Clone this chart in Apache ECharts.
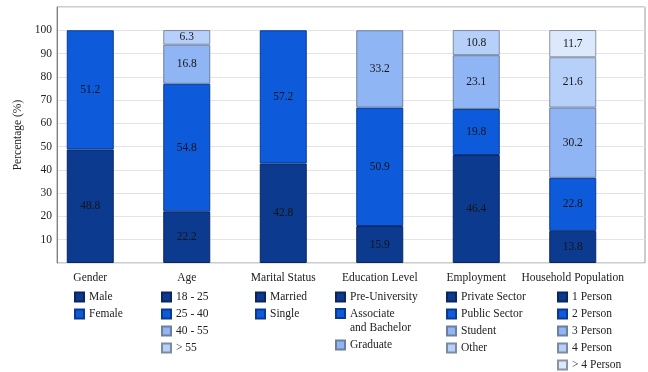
<!DOCTYPE html>
<html>
<head>
<meta charset="utf-8">
<script src="https://cdn.jsdelivr.net/npm/echarts@6/dist/echarts.min.js"></script>
<style>html,body{margin:0;padding:0;background:#fff}#c{width:648px;height:372px}</style>
</head>
<body>
<div id="c"></div>
<script>
const categories = ['Gender', 'Age', 'Marital Status', 'Education Level', 'Employment', 'Household Population'];

const genderLabels = ['Male', 'Female'];
const genderValues = [48.8, 51.2];
const ageLabels = ['18 - 25', '25 - 40', '40 - 55', '> 55'];
const ageValues = [22.2, 54.8, 16.8, 6.3];
const maritalLabels = ['Married', 'Single'];
const maritalValues = [42.8, 57.2];
const educationLabels = ['Pre-University', 'Associate and Bachelor', 'Graduate'];
const educationValues = [15.9, 50.9, 33.2];
const employmentLabels = ['Private Sector', 'Public Sector', 'Student', 'Other'];
const employmentValues = [46.4, 19.8, 23.1, 10.8];
const householdLabels = ['1 Person', '2 Person', '3 Person', '4 Person', '> 4 Person'];
const householdValues = [13.8, 22.8, 30.2, 21.6, 11.7];

const yTicks = [10, 20, 30, 40, 50, 60, 70, 80, 90, 100];

const groups = [
  [genderLabels, genderValues],
  [ageLabels, ageValues],
  [maritalLabels, maritalValues],
  [educationLabels, educationValues],
  [employmentLabels, employmentValues],
  [householdLabels, householdValues]
];

const levelColors = ['#0c3a8e', '#0d5bdb', '#8fb5f5', '#b7d0f9', '#dce8fb'];
const levelBorders = ['#0a2660', '#0a3a90', '#6d7f9c', '#7d8ba0', '#8a93a3'];
const FONT = 'Liberation Serif';
const FS = 11.5;

const series = [];
groups.forEach((g, ci) => {
  const [labels, values] = g;
  labels.forEach((name, j) => {
    const data = categories.map((_, k) => (k === ci ? values[j] : '-'));
    series.push({
      name: name,
      type: 'bar',
      stack: 'total',
      xAxisIndex: 0,
      yAxisIndex: 0,
      barWidth: 47,
      data: data,
      itemStyle: { color: levelColors[j], borderColor: levelBorders[j], borderWidth: 1 },
      label: {
        show: true,
        position: 'inside',
        color: '#151515',
        fontFamily: FONT,
        fontSize: FS,
        formatter: p => p.value.toFixed(1)
      },
      emphasis: { disabled: true }
    });
  });
});

const legendBase = {
  orient: 'vertical',
  padding: 0,
  itemGap: 3,
  itemWidth: 9,
  itemHeight: 9,
  icon: 'rect',
  selectedMode: false,
  textStyle: { fontFamily: FONT, fontSize: FS, color: '#222', lineHeight: 14 },
  formatter: n => (n === 'Associate and Bachelor' ? ' \nAssociate\nand Bachelor' : n)
};
const legendLefts = [74, 161, 255, 335, 446, 557];
const legends = [];
groups.forEach((g, ci) => {
  if (ci === 3) {
    legends.push(Object.assign({}, legendBase, {
      left: legendLefts[ci], top: 290, itemGap: -11.4,
      data: [g[0][0], g[0][1]]
    }));
    legends.push(Object.assign({}, legendBase, {
      left: legendLefts[ci], top: 338, data: [g[0][2]]
    }));
  } else {
    legends.push(Object.assign({}, legendBase, { left: legendLefts[ci], top: 290, data: g[0] }));
  }
});

const option = {
  animation: false,
  backgroundColor: '#fff',
  textStyle: { fontFamily: FONT },
  grid: [
    { left: 42, right: 27, top: 7, bottom: 109, show: false },
    { left: 57, right: 3, top: 7, bottom: 109, show: true, borderColor: '#9a9a9a', borderWidth: 1, backgroundColor: 'transparent' }
  ],
  xAxis: [
    {
      type: 'category', gridIndex: 0, data: categories,
      axisLine: { show: false }, axisTick: { show: false },
      axisLabel: { fontFamily: FONT, fontSize: FS, color: '#222', margin: 9, interval: 0 }
    },
    { type: 'value', gridIndex: 1, show: false, min: 0, max: 1 }
  ],
  yAxis: [
    { type: 'value', gridIndex: 0, min: 0, max: 110, interval: 10, show: false },
    {
      type: 'value', gridIndex: 1, min: 0, max: 110, interval: 10,
      name: 'Percentage (%)', nameLocation: 'middle', nameGap: 25,
      nameTextStyle: { fontFamily: FONT, fontSize: FS, color: '#222' },
      axisLine: { show: true, lineStyle: { color: '#808080' } },
      axisTick: { show: false },
      axisLabel: {
        fontFamily: FONT, fontSize: FS, color: '#222', margin: 5,
        formatter: v => (yTicks.indexOf(v) >= 0 ? String(v) : '')
      },
      splitLine: { show: true, lineStyle: { color: '#e4e4e4' } }
    }
  ],
  legend: legends,
  series: series
};

const chart = echarts.init(document.getElementById('c'), null, { renderer: 'canvas' });
chart.setOption(option);
</script>
</body>
</html>
